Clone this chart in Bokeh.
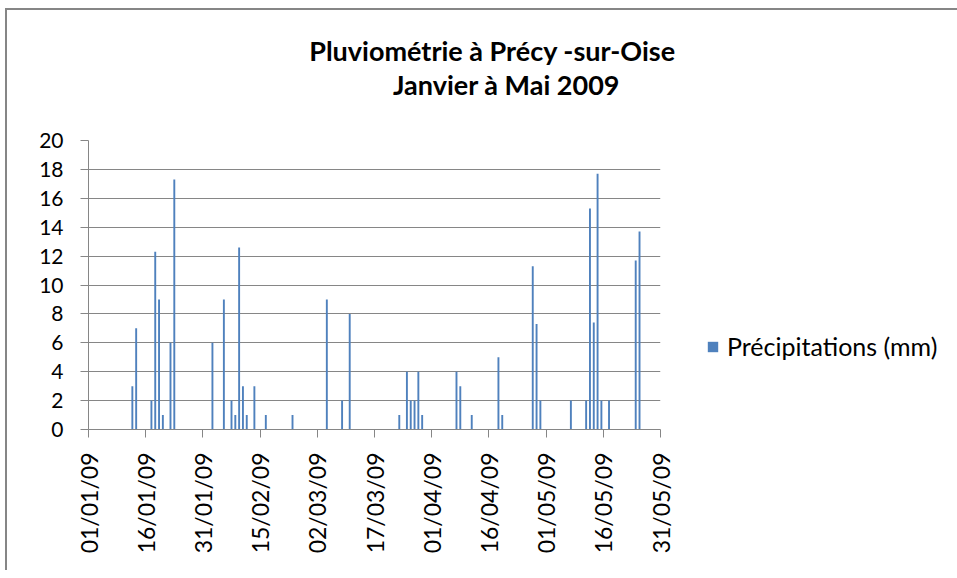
import pandas as pd
from bokeh.plotting import figure
from bokeh.models import ColumnDataSource, FixedTicker, Label, Legend, LegendItem, Range1d
from bokeh.embed import file_html
from bokeh.resources import INLINE

# ---- data ----
dates = ["12/01/09", "13/01/09", "17/01/09", "18/01/09", "19/01/09", "20/01/09",
         "22/01/09", "23/01/09", "02/02/09", "05/02/09", "07/02/09", "08/02/09",
         "09/02/09", "10/02/09", "11/02/09", "13/02/09", "16/02/09", "23/02/09",
         "04/03/09", "08/03/09", "10/03/09", "23/03/09", "25/03/09", "26/03/09",
         "27/03/09", "28/03/09", "29/03/09", "07/04/09", "08/04/09", "11/04/09",
         "18/04/09", "19/04/09", "27/04/09", "28/04/09", "29/04/09", "07/05/09",
         "11/05/09", "12/05/09", "13/05/09", "14/05/09", "15/05/09", "17/05/09",
         "24/05/09", "25/05/09"]
precip = [3, 7, 2, 12.3, 9, 1,
          6, 17.3, 6, 9, 2, 1,
          12.6, 3, 1, 3, 1, 1,
          9, 2, 8, 1, 4, 2,
          2, 4, 1, 4, 3, 1,
          5, 1, 11.3, 7.3, 2, 2,
          2, 15.3, 7.4, 17.7, 2, 2,
          11.7, 13.7]
tick_labels = ["01/01/09", "16/01/09", "31/01/09", "15/02/09", "02/03/09", "17/03/09",
               "01/04/09", "16/04/09", "01/05/09", "16/05/09", "31/05/09"]
y_ticks = [0, 2, 4, 6, 8, 10, 12, 14, 16, 18, 20]
series_name = "Précipitations (mm)"
title_lines = ["Pluviométrie à Précy -sur-Oise", "Janvier à Mai 2009"]

start = pd.Timestamp("2009-01-01")
day_idx = [(pd.to_datetime(d, format="%d/%m/%y") - start).days + 0.5 for d in dates]
tick_pos = [(pd.to_datetime(t, format="%d/%m/%y") - start).days for t in tick_labels]

src = ColumnDataSource(dict(x=day_idx, top=precip))

FONT = "Lato"
GREY = "#868686"
BLUE = "#4F81BD"

p = figure(frame_width=572, frame_height=289,
           min_border_left=81, min_border_right=295,
           min_border_top=130, min_border_bottom=141,
           x_range=Range1d(tick_pos[0], tick_pos[-1]), y_range=Range1d(0, 20),
           output_backend="svg", toolbar_location=None, tools="",
           background_fill_color="white", border_fill_color="white")
p.styles = {"margin-left": "5px", "margin-top": "8px",
            "border-left": "2px solid " + GREY, "border-top": "2px solid " + GREY}
p.outline_line_color = None

r = p.vbar(x="x", top="top", width=0.5, source=src, color=BLUE, line_color=None)

p.xaxis.ticker = FixedTicker(ticks=tick_pos)
p.xaxis.major_label_overrides = {t: l for t, l in zip(tick_pos, tick_labels)}
p.xaxis.major_label_orientation = 3.14159265 / 2
p.xaxis.minor_tick_line_color = None
p.yaxis.ticker = FixedTicker(ticks=y_ticks)
p.yaxis.minor_tick_line_color = None
for ax in (p.xaxis, p.yaxis):
    ax.axis_line_color = GREY
    ax.major_tick_line_color = GREY
    ax.major_tick_in = 0
    ax.major_tick_out = 8
    ax.major_label_text_font = FONT
    ax.major_label_text_color = "black"
p.xaxis.major_label_text_font_size = "23px"
p.xaxis.major_label_standoff = 15
p.yaxis.major_label_text_font_size = "21px"
p.yaxis.major_label_standoff = 17

p.xgrid.grid_line_color = None
p.ygrid.grid_line_color = GREY
p.ygrid.grid_line_width = 1

# title: labels placed in the panel above the frame
for txt, x, y in zip(title_lines, [404, 418], [90, 23]):
    p.add_layout(Label(x=x, y=y, x_units="screen", y_units="screen", text=txt,
                       text_align="center", text_baseline="alphabetic",
                       text_font=FONT, text_font_style="bold",
                       text_font_size="27px", text_color="black"), "above")

legend = Legend(items=[LegendItem(label=series_name, renderers=[r])],
                location=(46, 68), orientation="vertical",
                glyph_width=13, glyph_height=13, label_standoff=8,
                padding=0, margin=0, spacing=0,
                border_line_color=None, background_fill_alpha=0,
                label_text_font=FONT, label_text_font_size="25px",
                label_text_color="black")
p.add_layout(legend, "right")

open("out.html", "w").write(file_html(p, INLINE))
